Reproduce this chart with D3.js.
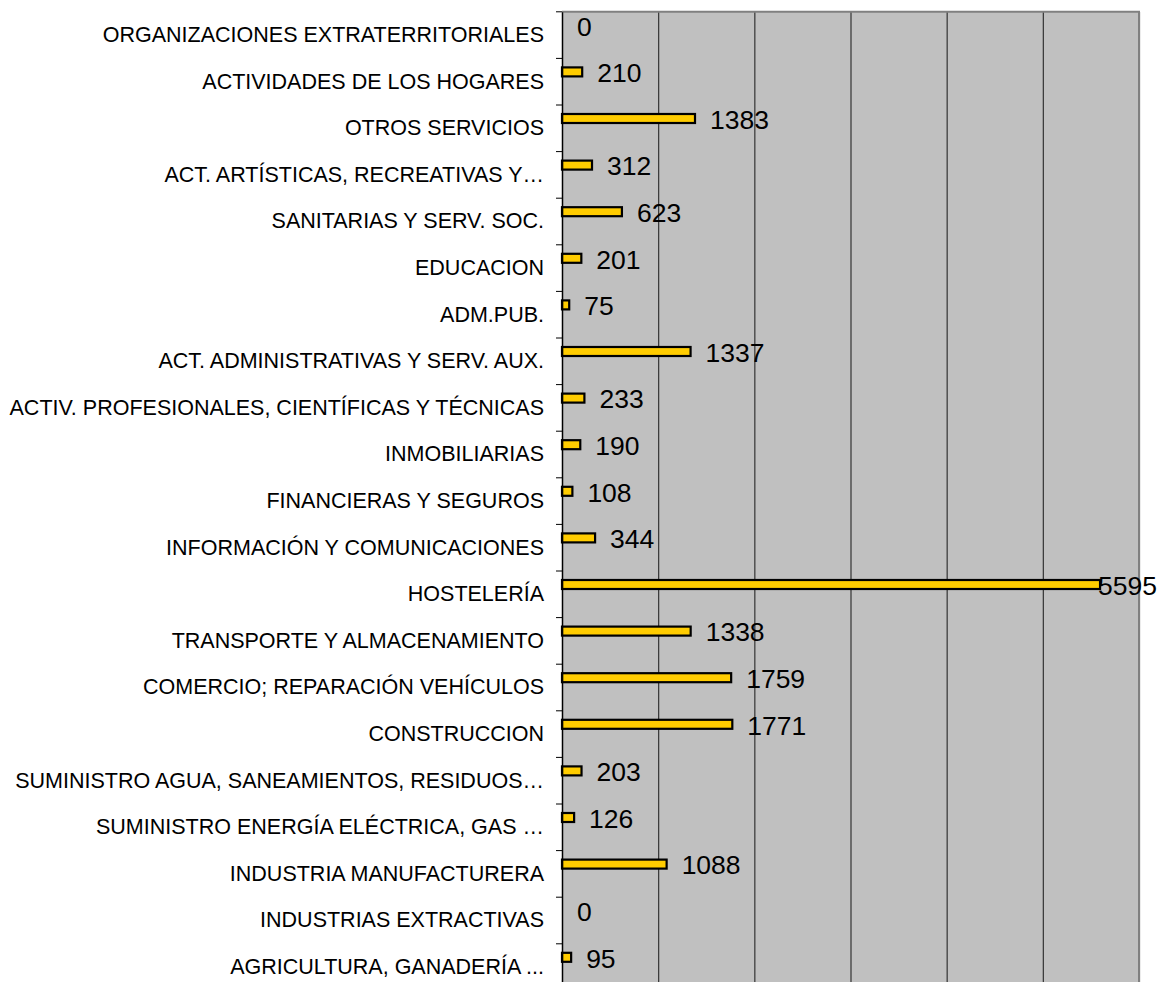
<!DOCTYPE html>
<html>
<head>
<meta charset="utf-8">
<script src="https://cdn.jsdelivr.net/npm/d3@7"></script>
<style>
  body { margin: 0; background: #fff; }
  text { font-family: "Liberation Sans", Arial, sans-serif; fill: #000; }
</style>
</head>
<body>
<svg id="chart" width="1158" height="982"></svg>
<script>
// sectores, de arriba a abajo
const sectores = [
  "ORGANIZACIONES EXTRATERRITORIALES",
  "ACTIVIDADES DE LOS HOGARES",
  "OTROS SERVICIOS",
  "ACT. ARTÍSTICAS, RECREATIVAS Y…",
  "SANITARIAS Y SERV. SOC.",
  "EDUCACION",
  "ADM.PUB.",
  "ACT. ADMINISTRATIVAS Y SERV. AUX.",
  "ACTIV. PROFESIONALES, CIENTÍFICAS Y TÉCNICAS",
  "INMOBILIARIAS",
  "FINANCIERAS Y SEGUROS",
  "INFORMACIÓN Y COMUNICACIONES",
  "HOSTELERÍA",
  "TRANSPORTE Y ALMACENAMIENTO",
  "COMERCIO; REPARACIÓN VEHÍCULOS",
  "CONSTRUCCION",
  "SUMINISTRO AGUA, SANEAMIENTOS, RESIDUOS…",
  "SUMINISTRO ENERGÍA ELÉCTRICA, GAS …",
  "INDUSTRIA MANUFACTURERA",
  "INDUSTRIAS EXTRACTIVAS",
  "AGRICULTURA, GANADERÍA ..."
];
const valores = [0, 210, 1383, 312, 623, 201, 75, 1337, 233, 190, 108, 344, 5595, 1338, 1759, 1771, 203, 126, 1088, 0, 95];
const gridTicks = [1000, 2000, 3000, 4000, 5000, 6000];

const datos = sectores.map((s, i) => ({sector: s, valor: valores[i]}));

const area = {left: 562, right: 1139, top: 11.8, bottom: 990.4};

const svg = d3.select("#chart");

const x = d3.scaleLinear().domain([0, 6000]).range([area.left, area.right]);
const y = d3.scaleBand().domain(sectores).range([area.top, area.bottom]).padding(0);
const band = y.bandwidth();

// fondo gris
svg.append("rect")
  .attr("x", area.left)
  .attr("y", area.top)
  .attr("width", area.right - area.left)
  .attr("height", area.bottom - area.top)
  .attr("fill", "#c0c0c0");

// rejilla vertical
svg.append("g")
  .attr("transform", "translate(0," + area.bottom + ")")
  .call(d3.axisBottom(x).tickValues(gridTicks).tickSize(-(area.bottom - area.top)).tickFormat(""))
  .call(g => g.select(".domain").remove())
  .call(g => g.selectAll(".tick line").attr("stroke", "#333").attr("stroke-width", 1.2));

// borde superior y derecho
svg.append("path")
  .attr("d", "M" + area.left + "," + area.top + "H" + area.right + "V" + area.bottom)
  .attr("fill", "none")
  .attr("stroke", "#808080")
  .attr("stroke-width", 2);

// barras
svg.selectAll("rect.barra")
  .data(datos)
  .enter()
  .append("rect")
    .attr("class", "barra")
    .attr("x", x(0))
    .attr("y", d => y(d.sector) + 9)
    .attr("width", d => x(d.valor) - x(0))
    .attr("height", 9)
    .attr("fill", "#ffcc00")
    .attr("stroke", "#000")
    .attr("stroke-width", 2.2)
    .style("display", d => d.valor > 0 ? null : "none");

// eje vertical con categorías
const ejeY = svg.append("g")
  .attr("transform", "translate(" + area.left + ",0)")
  .call(d3.axisLeft(y).tickSize(6).tickSizeOuter(0).tickPadding(12));

ejeY.select(".domain").attr("stroke", "#000").attr("stroke-width", 1.5);
ejeY.selectAll(".tick line")
  .attr("transform", "translate(0," + (-band / 2) + ")")
  .attr("stroke", "#000");
ejeY.selectAll(".tick text")
  .style("font-family", "'Liberation Sans', Arial, sans-serif")
  .style("font-size", "21.5px")
  .attr("fill", "#000");

// etiquetas de valor
svg.selectAll("text.valor")
  .data(datos)
  .enter()
  .append("text")
    .attr("class", "valor")
    .attr("x", d => x(d.valor) + 15)
    .attr("y", d => y(d.sector) + 14.5)
    .attr("dy", "0.35em")
    .style("font-size", "26.5px")
    .text(d => d.valor)
    .each(function() {
      // que no se salga del lienzo
      const w = this.getComputedTextLength();
      const xx = +d3.select(this).attr("x");
      if (xx + w > 1157) d3.select(this).attr("x", 1157 - w);
    });
</script>
</body>
</html>
